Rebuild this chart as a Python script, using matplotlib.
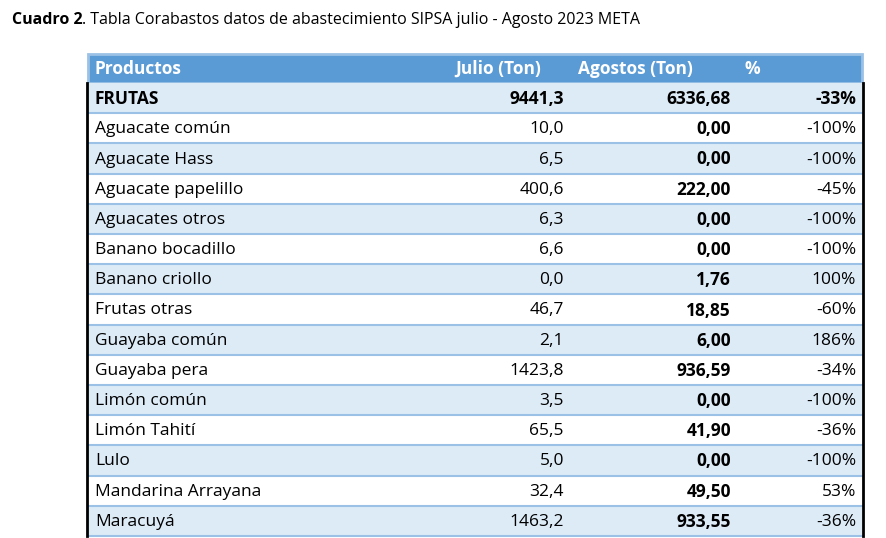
import matplotlib
matplotlib.use("Agg")
import matplotlib.pyplot as plt
from matplotlib.patches import Rectangle

productos = ["FRUTAS", "Aguacate común", "Aguacate Hass", "Aguacate papelillo",
             "Aguacates otros", "Banano bocadillo", "Banano criollo", "Frutas otras",
             "Guayaba común", "Guayaba pera", "Limón común", "Limón Tahití", "Lulo",
             "Mandarina Arrayana", "Maracuyá"]
julio = ["9441,3", "10,0", "6,5", "400,6", "6,3", "6,6", "0,0", "46,7", "2,1",
         "1423,8", "3,5", "65,5", "5,0", "32,4", "1463,2"]
agosto = ["6336,68", "0,00", "0,00", "222,00", "0,00", "0,00", "1,76", "18,85",
          "6,00", "936,59", "0,00", "41,90", "0,00", "49,50", "933,55"]
pct = ["-33%", "-100%", "-100%", "-45%", "-100%", "-100%", "100%", "-60%", "186%",
       "-34%", "-100%", "-36%", "-100%", "53%", "-36%"]
headers = ["Productos", "Julio (Ton)", "Agostos (Ton)", "%"]

W, H = 887, 538
fig = plt.figure(figsize=(W / 100, H / 100), dpi=100)
ax = fig.add_axes([0, 0, 1, 1])
ax.set_xlim(0, W); ax.set_ylim(H, 0); ax.axis("off")
FONT = "Open Sans"
BLUE, LIGHT, LINE = "#5B9BD5", "#DDEBF7", "#9BC2E6"

ax.text(12, 20, "Cuadro 2", fontsize=11.5, fontweight="bold", family=FONT, va="center")
ax.text(82, 20, ". Tabla Corabastos datos de abastecimiento SIPSA julio - Agosto 2023 META",
        fontsize=11.5, family=FONT, va="center")

x0, x1 = 88, 862
top, rh = 54, 30.2
ax.add_patch(Rectangle((x0, top), x1 - x0, 29, color=BLUE, ec=LINE, lw=2))
ax.text(95, top + 15, headers[0], color="white", fontsize=12.5, fontweight="bold", family=FONT, va="center")
ax.text(541, top + 15, headers[1], color="white", fontsize=12.5, fontweight="bold", family=FONT, va="center", ha="right")
ax.text(578, top + 15, headers[2], color="white", fontsize=12.5, fontweight="bold", family=FONT, va="center")
ax.text(745, top + 15, headers[3], color="white", fontsize=12.5, fontweight="bold", family=FONT, va="center")

y = top + 29
for i, p in enumerate(productos):
    fc = LIGHT if i % 2 == 0 else "white"
    ax.add_patch(Rectangle((x0, y), x1 - x0, rh, color=fc, lw=0))
    ax.plot([x0, x1], [y + rh, y + rh], color=LINE, lw=1.5)
    cy = y + rh / 2 + 1
    b = "bold" if i == 0 else "normal"
    ax.text(95, cy, p, fontsize=12.5, fontweight=b, family=FONT, va="center")
    ax.text(564, cy, julio[i], fontsize=12.5, fontweight=b, family=FONT, va="center", ha="right")
    ax.text(731, cy, agosto[i], fontsize=12.5, fontweight="bold", family=FONT, va="center", ha="right")
    ax.text(856, cy, pct[i], fontsize=12.5, fontweight=b, family=FONT, va="center", ha="right")
    y += rh
ax.plot([x0 - 1, x0 - 1], [top + 29, y], color="black", lw=2)
ax.plot([x1 + 1, x1 + 1], [top + 29, y], color="black", lw=2)

fig.savefig("out.png", dpi=100)
